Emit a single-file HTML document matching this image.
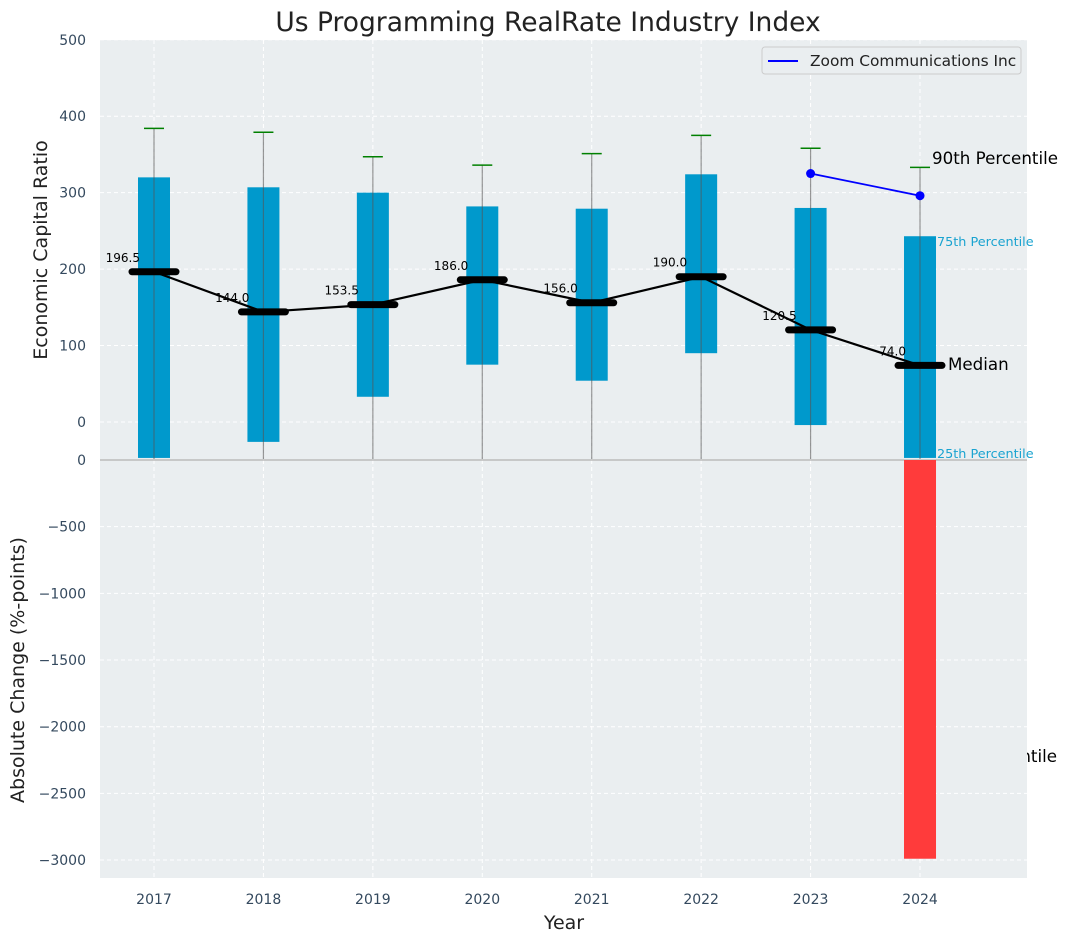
<!DOCTYPE html>
<html><head><meta charset="utf-8"><style>
html,body{margin:0;padding:0;background:#fff;}
svg{display:block;font-family:"DejaVu Sans","Liberation Sans",sans-serif;}
</style></head><body>
<svg id="chart" width="1067" height="942" viewBox="0 0 1067 942" xmlns="http://www.w3.org/2000/svg"></svg>
<script>
const years = [2017,2018,2019,2020,2021,2022,2023,2024];
const q1 = [-47,-26,33,75,54,90,-4,-47];
const q3 = [320,307,300,282,279,324,280,243];
const p90 = [384,379,347,336,351,375,358,333];
const medians = [196.5,144.0,153.5,186.0,156.0,190.0,120.5,74.0];
const zoomYears = [2023,2024];
const zoomValues = [325,296];
const changeYears = [2024];
const changeValues = [-2990];
const topTicks = [0,100,200,300,400,500];
const botTicks = [0,-500,-1000,-1500,-2000,-2500,-3000];

const NS = "http://www.w3.org/2000/svg";
const svg = document.getElementById('chart');
function el(tag, attrs, parent, text){
  const e = document.createElementNS(NS, tag);
  for (const k in attrs) e.setAttribute(k, attrs[k]);
  if (text !== undefined) e.textContent = text;
  (parent||svg).appendChild(e);
  return e;
}
const L=100, R=1027, T1=40, B1=459, T2=459, B2=878;
const X = y => 154 + (y-2017)*109.43;
const YT = v => 422 - v*0.7645;
const YB = v => 460 - v*0.13335;

let t = el('text',{x:1057,y:762,'text-anchor':'end','font-size':16.7,fill:'#000'},svg,'10th Percentile');



let bg1 = el('rect',{x:L,y:T1,width:R-L,height:B1-T1,fill:'#eaeef0'});


let bg2 = el('rect',{x:L,y:T2,width:R-L,height:B2-T2,fill:'#eaeef0'});



years.forEach(y=>{
  let g = el('line',{x1:X(y),x2:X(y),y1:T1,y2:B2,stroke:'#fff','stroke-dasharray':'4,3','stroke-width':1});
  
  
});
topTicks.forEach(v=>{
  let g = el('line',{x1:L,x2:R,y1:YT(v),y2:YT(v),stroke:'#fff','stroke-dasharray':'4,3','stroke-width':1});
  
  
  let tx = el('text',{x:86,y:YT(v)+5,'text-anchor':'end','font-size':14,fill:'#34495e'},svg,String(v));
  
  
});
botTicks.forEach(v=>{
  let g = el('line',{x1:L,x2:R,y1:YB(v),y2:YB(v),stroke:'#fff','stroke-dasharray':'4,3','stroke-width':1});
  
  
  let tx = el('text',{x:86,y:YB(v)+5,'text-anchor':'end','font-size':14,fill:'#34495e'},svg,v===0?'0':'\u2212'+Math.abs(v));
  
  
});

years.forEach((y,i)=>{
  let b = el('rect',{x:X(y)-16,y:YT(q3[i]),width:32,height:Math.min(YT(q1[i]),B1-1)-YT(q3[i]),fill:'#0099cc'});
  
  
  let w = el('line',{x1:X(y),x2:X(y),y1:YT(p90[i]),y2:B1,stroke:'#555','stroke-opacity':0.6,'stroke-width':1.2});
  
  
  let c = el('line',{x1:X(y)-10,x2:X(y)+10,y1:YT(p90[i]),y2:YT(p90[i]),stroke:'green','stroke-width':1.5});
  
  
});

let sep = el('line',{x1:L,x2:R,y1:460,y2:460,stroke:'#bbb','stroke-width':1.5});



changeYears.forEach((y,i)=>{
  let b = el('rect',{x:X(y)-16,y:YB(0),width:32,height:YB(changeValues[i])-YB(0),fill:'#ff3b3b'});
  
  
});

let pts = years.map((y,i)=>X(y)+','+YT(medians[i])).join(' ');
let ml = el('polyline',{points:pts,fill:'none',stroke:'#000','stroke-width':2.2});


years.forEach((y,i)=>{
  let m = el('line',{x1:X(y)-22,x2:X(y)+22,y1:YT(medians[i]),y2:YT(medians[i]),stroke:'#000','stroke-width':7,'stroke-linecap':'round'});
  
  
  let lb = el('text',{x:X(y)-14,y:YT(medians[i])-10,'text-anchor':'end','font-size':12,fill:'#000'},svg,medians[i].toFixed(1));
  
  
});

let zp = zoomYears.map((y,i)=>X(y)+','+YT(zoomValues[i])).join(' ');
let zl = el('polyline',{points:zp,fill:'none',stroke:'#0000ff','stroke-width':1.8});


zoomYears.forEach((y,i)=>{
  let d = el('circle',{cx:X(y),cy:YT(zoomValues[i]),r:4.5,fill:'#0000ff'});
  
  
});

let a1 = el('text',{x:932,y:164,'font-size':16.7,fill:'#000'},svg,'90th Percentile');


let a2 = el('text',{x:937,y:246,'font-size':12.8,fill:'#1aa3d0'},svg,'75th Percentile');


let a3 = el('text',{x:948,y:370,'font-size':16.7,fill:'#000'},svg,'Median');


let a4 = el('text',{x:937,y:458,'font-size':12.8,fill:'#1aa3d0'},svg,'25th Percentile');



years.forEach(y=>{
  let tx = el('text',{x:X(y),y:904,'text-anchor':'middle','font-size':14,fill:'#34495e'},svg,String(y));
  
  
});

let lg = el('g',{});


el('rect',{x:762,y:47,width:259,height:27,rx:3,fill:'#eaeef0',stroke:'#ccc'},lg);
el('line',{x1:768,x2:798,y1:61,y2:61,stroke:'#0000ff','stroke-width':2},lg);
el('text',{x:810,y:66,'font-size':15.4,fill:'#222'},lg,'Zoom Communications Inc');

let ti = el('text',{x:548,y:31,'text-anchor':'middle','font-size':26.5,fill:'#222'},svg,'Us Programming RealRate Industry Index');


let xt = el('text',{x:564,y:929,'text-anchor':'middle','font-size':19,fill:'#222'},svg,'Year');


let y1 = el('text',{x:47,y:250,'text-anchor':'middle','font-size':19,fill:'#222',transform:'rotate(-90 47 250)'},svg,'Economic Capital Ratio');


let y2 = el('text',{x:24,y:670,'text-anchor':'middle','font-size':19,fill:'#222',transform:'rotate(-90 24 670)'},svg,'Absolute Change (%-points)');


</script>
</body></html>
